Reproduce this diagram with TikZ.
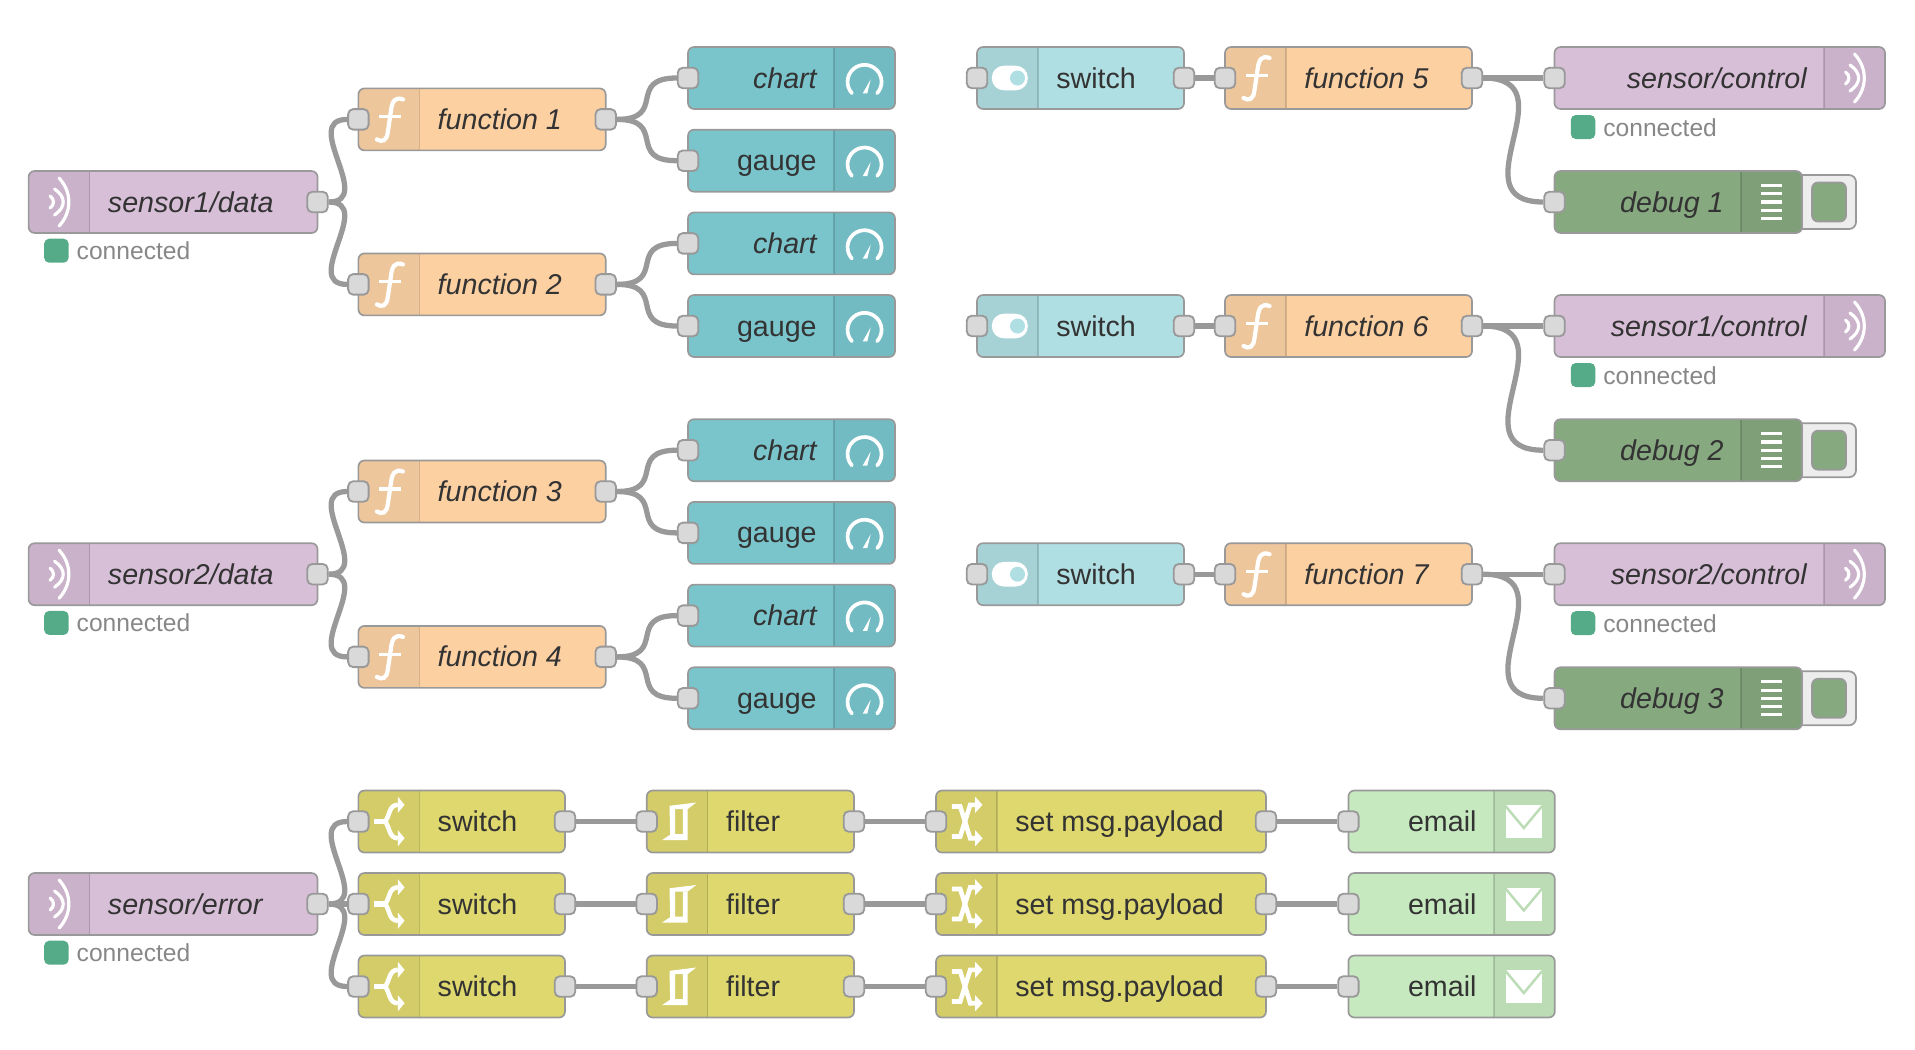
\documentclass[tikz,border=0pt]{standalone}
\usepackage{fontspec}
\setmainfont{Liberation Sans}
\usetikzlibrary{backgrounds}

\definecolor{mqttbody}{HTML}{D8BFD8}
\definecolor{mqttdark}{HTML}{CAB2CB}
\definecolor{fnbody}{HTML}{FDD0A2}
\definecolor{fndark}{HTML}{EEC69C}
\definecolor{dashbody}{HTML}{7AC4CC}
\definecolor{dashdark}{HTML}{73BBC3}
\definecolor{togbody}{HTML}{B0DFE3}
\definecolor{togdark}{HTML}{A6D2D6}
\definecolor{dbgbody}{HTML}{87A980}
\definecolor{dbgdark}{HTML}{7F9F79}
\definecolor{fltbody}{HTML}{DFD86E}
\definecolor{fltdark}{HTML}{D3CC68}
\definecolor{mailbody}{HTML}{C7E9C0}
\definecolor{maildark}{HTML}{BBDCB5}
\definecolor{okdot}{HTML}{55AA88}

\tikzset{
  flowbody/.style={rounded corners=0.12cm, minimum height=1.24cm, inner sep=0pt, outer sep=0pt},
  frame/.style={draw=black!40, line width=0.95pt, rounded corners=0.12cm},
  divline/.style={draw=black, opacity=0.15, line width=0.8pt},
  port/.style={draw=black!40, fill=black!15, line width=1.05pt, rounded corners=0.1cm,
    minimum size=0.41cm, inner sep=0pt},
  wire/.style={draw=black!40, line width=3pt},
  lbl/.style={text=black!80, font=\fontsize{16.3}{18}\selectfont, inner sep=0pt},
  statustxt/.style={text=black!47, font=\fontsize{14}{16}\selectfont, inner sep=0pt},
  statusdot/.style={fill=okdot, rounded corners=0.1cm, minimum width=0.49cm, minimum height=0.48cm, inner sep=0pt},
  iconline/.style={draw=white, line width=1.8pt},
  dbgtab/.style={draw=black!40, fill=black!7, line width=1pt, rounded corners=0.14cm,
    minimum width=1.4cm, minimum height=1.08cm, inner sep=0pt},
  dbgbtn/.style={draw=black!40, fill=dbgbody, line width=1pt, rounded corners=0.12cm,
    minimum width=0.68cm, minimum height=0.78cm, inner sep=0pt}
}

% body of a node, icon block on the left or on the right
\newcommand{\leftbox}[6]{
  \node[flowbody, fill=#5, minimum width={(#3-#2)*0.02cm}] (#1) at ({(#2+#3)/2},#4) {};
  \begin{scope}
    \clip[rounded corners=0.12cm] (#1.north west) rectangle (#1.south east);
    \fill[#6] (#1.north west) rectangle ([xshift=1.22cm]#1.south west);
  \end{scope}
  \draw[divline] ([xshift=1.22cm]#1.north west) -- ([xshift=1.22cm]#1.south west);
  \draw[frame] (#1.north west) rectangle (#1.south east);
  \coordinate (#1-ic) at ([xshift=0.61cm]#1.west);
}
\newcommand{\rightbox}[6]{
  \node[flowbody, fill=#5, minimum width={(#3-#2)*0.02cm}] (#1) at ({(#2+#3)/2},#4) {};
  \begin{scope}
    \clip[rounded corners=0.12cm] (#1.north west) rectangle (#1.south east);
    \fill[#6] ([xshift=-1.22cm]#1.north east) rectangle (#1.south east);
  \end{scope}
  \draw[divline] ([xshift=-1.22cm]#1.north east) -- ([xshift=-1.22cm]#1.south east);
  \draw[frame] (#1.north west) rectangle (#1.south east);
  \coordinate (#1-ic) at ([xshift=-0.61cm]#1.east);
}
\newcommand{\lefttxt}[2]{\node[lbl, anchor=base west] (#1-txt) at ([xshift=1.58cm,yshift=-0.2cm]#1.west) {#2};}
\newcommand{\righttxt}[2]{\node[lbl, anchor=base east] (#1-txt) at ([xshift=-1.56cm,yshift=-0.2cm]#1.east) {#2};}
\newcommand{\inport}[1]{\node[port] (#1-in) at (#1.west) {};}
\newcommand{\outport}[1]{\node[port] (#1-out) at (#1.east) {};}

% icons, in reference pixels around the middle of the icon block
\newcommand{\radioicon}[1]{
  \begin{scope}[shift={(#1-ic)}]
    \draw[iconline, line cap=round] (0,-24) .. controls (13,-10) and (13,10) .. (0,24);
    \draw[iconline, line cap=round] (-4.5,-13) .. controls (7,-5) and (7,5) .. (-4.5,13);
    \draw[iconline, line cap=round] (-9,-6) .. controls (-4.5,-3) and (-4.5,3) .. (-9,6);
  \end{scope}
}
\newcommand{\fnicon}[1]{
  \begin{scope}[shift={(#1-ic)}]
    \draw[iconline, line width=2.4pt, line cap=round] (14,-20) .. controls (6,-23) and (3,-18) .. (2,-8)
      -- (-1,12) .. controls (-2,22) and (-7,23) .. (-12,20);
    \draw[iconline, line width=1.8pt] (-10,-2.5) -- (12,-2.5);
  \end{scope}
}
\newcommand{\gaugeicon}[1]{
  \begin{scope}[shift={(#1-ic)}]
    \draw[iconline, line width=2.1pt, line cap=round] (-12.6,15.2) arc[start angle=222, end angle=-42, radius=0.34cm];
    \fill[white] (6.2,1.3) -- (2.8,15.3) -- (-1.8,15.3) -- cycle;
  \end{scope}
}
\newcommand{\togicon}[1]{
  \begin{scope}[shift={(#1-ic)}]
    \fill[white, rounded corners=0.24cm] (-15.7,-12.3) rectangle (20.3,12.3);
    \fill[togbody] (10,0) circle[radius=0.15cm];
  \end{scope}
}
\newcommand{\dbgicon}[1]{
  \begin{scope}[shift={(#1-ic)}]
    \draw[iconline] (-10.5,-16.4) -- (10.5,-16.4) (-10.5,-8.2) -- (10.5,-8.2) (-10.5,0) -- (10.5,0)
      (-10.5,8.2) -- (10.5,8.2) (-10.5,16.4) -- (10.5,16.4);
  \end{scope}
}
\newcommand{\branchicon}[1]{
  \begin{scope}[shift={(#1-ic)}]
    \draw[iconline, line width=2.9pt] (-14.7,0) -- (-3.7,0);
    \draw[iconline, line width=2.6pt] (-3.7,0) .. controls (1,-6) and (0,-16.7) .. (9,-16.7);
    \draw[iconline, line width=2.6pt] (-3.7,0) .. controls (1,6) and (0,16.7) .. (9,16.7);
    \fill[white] (15.7,-16.7) -- (9,-24.7) -- (9,-8.7) -- cycle;
    \fill[white] (15.7,16.7) -- (9,24.7) -- (9,8.7) -- cycle;
  \end{scope}
}
\newcommand{\rbeicon}[1]{
  \begin{scope}[shift={(#1-ic)}]
    \fill[white] (-7.7,-15.7) -- (19,-19) -- (10.3,-12.3) -- (-2,-12.3) -- (-2,12.7) -- (-7,14.3) -- cycle;
    \fill[white] (-15.3,18.7) -- (-6.3,12.7) -- (5.7,12.7) -- (5.7,-12.3) -- (10.3,-12.3) -- (10.3,18.7) -- cycle;
  \end{scope}
}
\newcommand{\shuffleicon}[1]{
  \begin{scope}[shift={(#1-ic)}]
    \draw[iconline, line width=2.6pt] (-14.7,-15) -- (-6.3,-15) -- (3.7,16.7) -- (9,16.7);
    \draw[iconline, line width=2.6pt] (-14.7,15) -- (-6.3,15) -- (3.7,-16.7) -- (9,-16.7);
    \fill[white] (16,-16.7) -- (8.7,-24.7) -- (8.7,-8.7) -- cycle;
    \fill[white] (16,16.7) -- (8.7,24.7) -- (8.7,8.7) -- cycle;
  \end{scope}
}
\newcommand{\mailicon}[1]{
  \begin{scope}[shift={(#1-ic)}]
    \fill[white] (-18.8,-16.5) rectangle (17.8,16.5);
    \draw[maildark, line width=1.4pt] (-18.8,-15.5) -- (-0.5,6.5) -- (17.8,-15.5);
  \end{scope}
}

% the node kinds of the flow
\newcommand{\mqttin}[3]{
  \leftbox{#1}{28.6}{317.5}{#2}{mqttbody}{mqttdark}
  \radioicon{#1}\lefttxt{#1}{\itshape #3}\outport{#1}
}
\newcommand{\mqttout}[3]{
  \rightbox{#1}{1554.5}{1885}{#2}{mqttbody}{mqttdark}
  \radioicon{#1}\righttxt{#1}{\itshape #3}\inport{#1}
}
\newcommand{\fnnode}[5]{
  \leftbox{#1}{#2}{#3}{#4}{fnbody}{fndark}
  \fnicon{#1}\lefttxt{#1}{\itshape #5}\inport{#1}\outport{#1}
}
\newcommand{\dashnode}[3]{
  \rightbox{#1}{688}{895}{#2}{dashbody}{dashdark}
  \gaugeicon{#1}\righttxt{#1}{#3}\inport{#1}
}
\newcommand{\tognode}[2]{
  \leftbox{#1}{977}{1184}{#2}{togbody}{togdark}
  \togicon{#1}\lefttxt{#1}{switch}\inport{#1}\outport{#1}
}
\newcommand{\dbgnode}[3]{
  \node[dbgtab] (#1-tab) at (1821,#2) {};
  \node[dbgbtn] (#1-btn) at (1829,#2) {};
  \rightbox{#1}{1554.5}{1802}{#2}{dbgbody}{dbgdark}
  \dbgicon{#1}\righttxt{#1}{\itshape #3}\inport{#1}
}
\newcommand{\brnode}[2]{
  \leftbox{#1}{358.4}{565}{#2}{fltbody}{fltdark}
  \branchicon{#1}\lefttxt{#1}{switch}\inport{#1}\outport{#1}
}
\newcommand{\rbenode}[2]{
  \leftbox{#1}{646.7}{854}{#2}{fltbody}{fltdark}
  \rbeicon{#1}\lefttxt{#1}{filter}\inport{#1}\outport{#1}
}
\newcommand{\setnode}[2]{
  \leftbox{#1}{936}{1266}{#2}{fltbody}{fltdark}
  \shuffleicon{#1}\lefttxt{#1}{set msg.payload}\inport{#1}\outport{#1}
}
\newcommand{\mailnode}[2]{
  \rightbox{#1}{1348.4}{1554.8}{#2}{mailbody}{maildark}
  \mailicon{#1}\righttxt{#1}{email}\inport{#1}
}
\newcommand{\conn}[3]{
  \node[statusdot] (#1-dot) at (#2,#3) {};
  \node[statustxt, anchor=base west] (#1-state) at ([xshift=0.4cm,yshift=-0.18cm]#1-dot.center) {connected};
}
\newcommand{\wirecurve}[3]{
  \draw[wire] (#1) .. controls ([xshift=#3*0.02cm]#1.center) and ([xshift=-#3*0.02cm]#2.center) .. (#2);
}

\begin{document}
\begin{tikzpicture}[x=0.02cm, y=-0.02cm]

  \useasboundingbox (0,0) rectangle (1915,1049);

  % first sensor
  \mqttin{sone}{202}{sensor1/data}
  \conn{sone}{56.4}{250.7}
  \fnnode{fone}{358.4}{605.7}{119.4}{function 1}
  \fnnode{ftwo}{358.4}{605.7}{284.4}{function 2}
  \dashnode{chone}{78}{\itshape chart}
  \dashnode{gaone}{160.7}{gauge}
  \dashnode{chtwo}{243.4}{\itshape chart}
  \dashnode{gatwo}{326}{gauge}

  % second sensor
  \mqttin{stwo}{574.2}{sensor2/data}
  \conn{stwo}{56.4}{622.9}
  \fnnode{fthree}{358.4}{605.7}{491.5}{function 3}
  \fnnode{ffour}{358.4}{605.7}{656.9}{function 4}
  \dashnode{chthree}{450.2}{\itshape chart}
  \dashnode{gathree}{532.9}{gauge}
  \dashnode{chfour}{615.6}{\itshape chart}
  \dashnode{gafour}{698.3}{gauge}

  % control rows on the right
  \tognode{tone}{78}
  \fnnode{ffive}{1225}{1472}{78}{function 5}
  \mqttout{cone}{78}{sensor/control}
  \conn{cone}{1583}{127}
  \dbgnode{done}{202}{debug 1}

  \tognode{ttwo}{326}
  \fnnode{fsix}{1225}{1472}{326}{function 6}
  \mqttout{ctwo}{326}{sensor1/control}
  \conn{ctwo}{1583}{375}
  \dbgnode{dtwo}{450.2}{debug 2}

  \tognode{tthree}{574.2}
  \fnnode{fseven}{1225}{1472}{574.2}{function 7}
  \mqttout{cthree}{574.2}{sensor2/control}
  \conn{cthree}{1583}{623.2}
  \dbgnode{dthree}{698.3}{debug 3}

  % error rows
  \mqttin{serr}{904}{sensor/error}
  \conn{serr}{56.4}{952.7}
  \brnode{brone}{821.5}
  \brnode{brtwo}{904}
  \brnode{brthree}{986.5}
  \rbenode{rone}{821.5}
  \rbenode{rtwo}{904}
  \rbenode{rthree}{986.5}
  \setnode{setone}{821.5}
  \setnode{settwo}{904}
  \setnode{setthree}{986.5}
  \mailnode{mone}{821.5}
  \mailnode{mtwo}{904}
  \mailnode{mthree}{986.5}

  % wires go under the nodes
  \begin{pgfonlayer}{background}
    \wirecurve{sone-out}{fone-in}{58}
    \wirecurve{sone-out}{ftwo-in}{58}
    \wirecurve{fone-out}{chone-in}{62}
    \wirecurve{fone-out}{gaone-in}{62}
    \wirecurve{ftwo-out}{chtwo-in}{62}
    \wirecurve{ftwo-out}{gatwo-in}{62}

    \wirecurve{stwo-out}{fthree-in}{58}
    \wirecurve{stwo-out}{ffour-in}{58}
    \wirecurve{fthree-out}{chthree-in}{62}
    \wirecurve{fthree-out}{gathree-in}{62}
    \wirecurve{ffour-out}{chfour-in}{62}
    \wirecurve{ffour-out}{gafour-in}{62}

    \draw[wire] (tone-out) -- (ffive-in);
    \draw[wire] (ffive-out) -- (cone-in);
    \wirecurve{ffive-out}{done-in}{100}
    \draw[wire] (ttwo-out) -- (fsix-in);
    \draw[wire] (fsix-out) -- (ctwo-in);
    \wirecurve{fsix-out}{dtwo-in}{100}
    \draw[wire] (tthree-out) -- (fseven-in);
    \draw[wire] (fseven-out) -- (cthree-in);
    \wirecurve{fseven-out}{dthree-in}{100}

    \wirecurve{serr-out}{brone-in}{58}
    \draw[wire] (serr-out) -- (brtwo-in);
    \wirecurve{serr-out}{brthree-in}{58}
    \draw[wire] (brone-out) -- (rone-in);
    \draw[wire] (brtwo-out) -- (rtwo-in);
    \draw[wire] (brthree-out) -- (rthree-in);
    \draw[wire] (rone-out) -- (setone-in);
    \draw[wire] (rtwo-out) -- (settwo-in);
    \draw[wire] (rthree-out) -- (setthree-in);
    \draw[wire] (setone-out) -- (mone-in);
    \draw[wire] (settwo-out) -- (mtwo-in);
    \draw[wire] (setthree-out) -- (mthree-in);
  \end{pgfonlayer}

\end{tikzpicture}
\end{document}
